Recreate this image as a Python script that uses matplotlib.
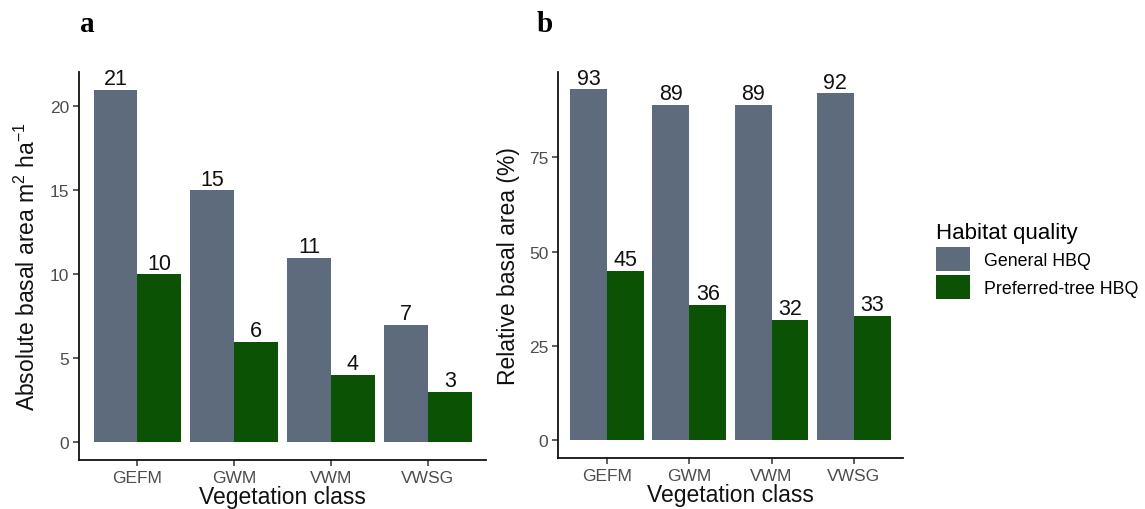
import numpy as np
import matplotlib
matplotlib.use("Agg")
import matplotlib.pyplot as plt

plt.rcParams['font.family'] = ['Liberation Sans', 'DejaVu Sans']
plt.rcParams['mathtext.fontset'] = 'custom'
plt.rcParams['mathtext.rm'] = 'Liberation Sans'
plt.rcParams['mathtext.it'] = 'Liberation Sans'

classes = ['GEFM', 'GWM', 'VWM', 'VWSG']
series = ['General HBQ', 'Preferred-tree HBQ']
abs_general = [21, 15, 11, 7]
abs_preferred = [10, 6, 4, 3]
rel_general = [93, 89, 89, 92]
rel_preferred = [45, 36, 32, 33]

colors = ['#5D6B7D', '#0C5205']
bar_w = 0.45

fig = plt.figure(figsize=(11.45, 5.10), dpi=100)
ax_a = fig.add_axes([0.069, 0.096, 0.3555, 0.761])
ax_b = fig.add_axes([0.4873, 0.100, 0.3013, 0.757])


def draw_panel(ax, general, preferred, ylabel, yticks, ylabel_x):
    x = np.arange(len(classes))
    handles = []
    for i, (vals, col) in enumerate(zip([general, preferred], colors)):
        bars = ax.bar(x + (i - 0.5) * bar_w, vals, width=bar_w, color=col,
                      label=series[i], linewidth=0)
        ax.bar_label(bars, padding=0.5, fontsize=15.5, color='#111111')
        handles.append(bars)

    top = max(max(general), max(preferred))
    ax.set_ylim(-0.05 * top, 1.05 * top)
    ax.set_xlim(-0.6, len(classes) - 0.4)
    ax.set_xticks(x)
    ax.set_xticklabels(classes)
    ax.set_yticks(yticks)

    for side in ['top', 'right']:
        ax.spines[side].set_visible(False)
    for side in ['left', 'bottom']:
        ax.spines[side].set_linewidth(1.3)
        ax.spines[side].set_color('#111111')
    ax.tick_params(length=4, width=1.1, color='#333333', labelcolor='#4D4D4D',
                   labelsize=12.5, pad=3)

    ax.set_xlabel('Vegetation class', fontsize=16.5, color='#111111')
    ax.xaxis.set_label_coords(0.5, -0.064)
    ax.set_ylabel(ylabel, fontsize=16.5, color='#111111', va='center')
    ax.yaxis.set_label_coords(ylabel_x, 0.5)
    return handles


handles = draw_panel(ax_a, abs_general, abs_preferred,
                     r'Absolute basal area m$^{2}$ ha$^{-1}$',
                     [0, 5, 10, 15, 20], -0.128)
draw_panel(ax_b, rel_general, rel_preferred,
           'Relative basal area (%)', [0, 25, 50, 75], -0.142)

leg = fig.legend(handles=handles, labels=series, loc='upper left',
                 bbox_to_anchor=(0.81, 0.58), frameon=False,
                 title='Habitat quality', title_fontsize=16, fontsize=12.8,
                 handlelength=1.9, handleheight=1.75, labelspacing=0.2,
                 handletextpad=0.8, alignment='left', borderpad=0)

fig.text(0.070, 0.952, 'a', family='Liberation Serif', weight='bold',
         fontsize=21, va='center')
fig.text(0.469, 0.952, 'b', family='Liberation Serif', weight='bold',
         fontsize=21, va='center')

fig.savefig('out.png', dpi=100)
